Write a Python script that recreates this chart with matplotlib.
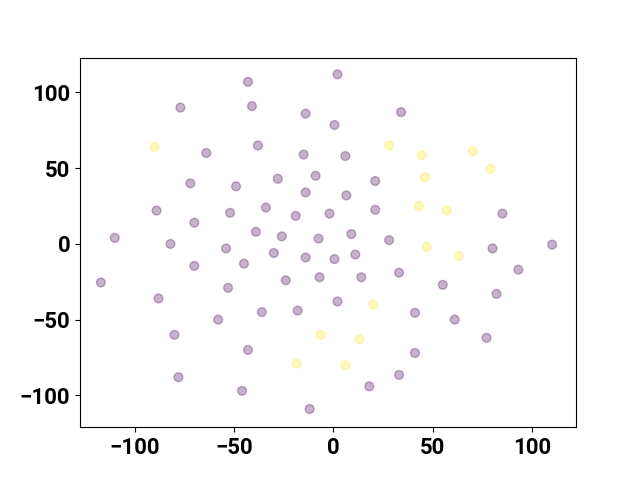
import matplotlib
matplotlib.use("Agg")
import matplotlib.pyplot as plt
import numpy as np

plt.rcParams['font.family'] = ['Roboto', 'DejaVu Sans']
plt.rcParams['font.weight'] = 'bold'
plt.rcParams['font.size'] = 16

# cluster 0 (purple)
x0 = [2, -43, -77, -41, 34, -14, 0.5, -64, -38, -15, 6, -9, -72, -28, -49, -14, 6.5, 21,
      -89, -70, -52, -34, -19, -2, 21, 85, -110, -82, -39, -26, -7.5, 9, 28, -54, -117,
      -70, -30, -14, 0.5, 11, -45, 80, 110, 93, 33, 14, -7, -24, 55, -53, -88, 82, 2,
      -18, -36, 41, -58, 61, -80, 77, -43, 41, -78, 33, 18, -46, -12]
y0 = [112, 107, 90, 91, 87, 86, 78.5, 60, 65, 59, 58, 45, 40, 43, 38, 34, 32, 41.5,
      22, 14, 20.5, 24, 18.5, 20, 22.5, 20, 4, 0, 8, 5, 3.5, 6.5, 2.5, -3, -25.5,
      -14.5, -6, -9, -10, -7, -13, -3, -0.5, -17, -19, -22, -22, -24, -27, -29, -36, -33, -38,
      -44, -45, -45.5, -50, -50, -60, -62, -70, -72, -88, -86.5, -94, -97, -109]
# cluster 1 (yellow)
x1 = [-90, 28, 44.5, 70, 79, 46, 43, 57, 47, 63, 20, -6.5, 13, -18.5, 6]
y1 = [64, 65, 58.5, 61, 49.5, 44, 25, 22, -2, -8, -40, -60, -63, -79, -80]

x = np.array(x0 + x1)
y = np.array(y0 + y1)
labels = np.array([0] * len(x0) + [1] * len(x1))

fig, ax = plt.subplots(figsize=(6.4, 4.8), dpi=100)
ax.scatter(x, y, c=labels, cmap='viridis', alpha=0.3, s=40)
ax.set_xlim(-127.5, 122)
ax.set_ylim(-121, 123)
ax.set_xticks([-100, -50, 0, 50, 100])
ax.set_yticks([-100, -50, 0, 50, 100])
plt.savefig('out.png')
